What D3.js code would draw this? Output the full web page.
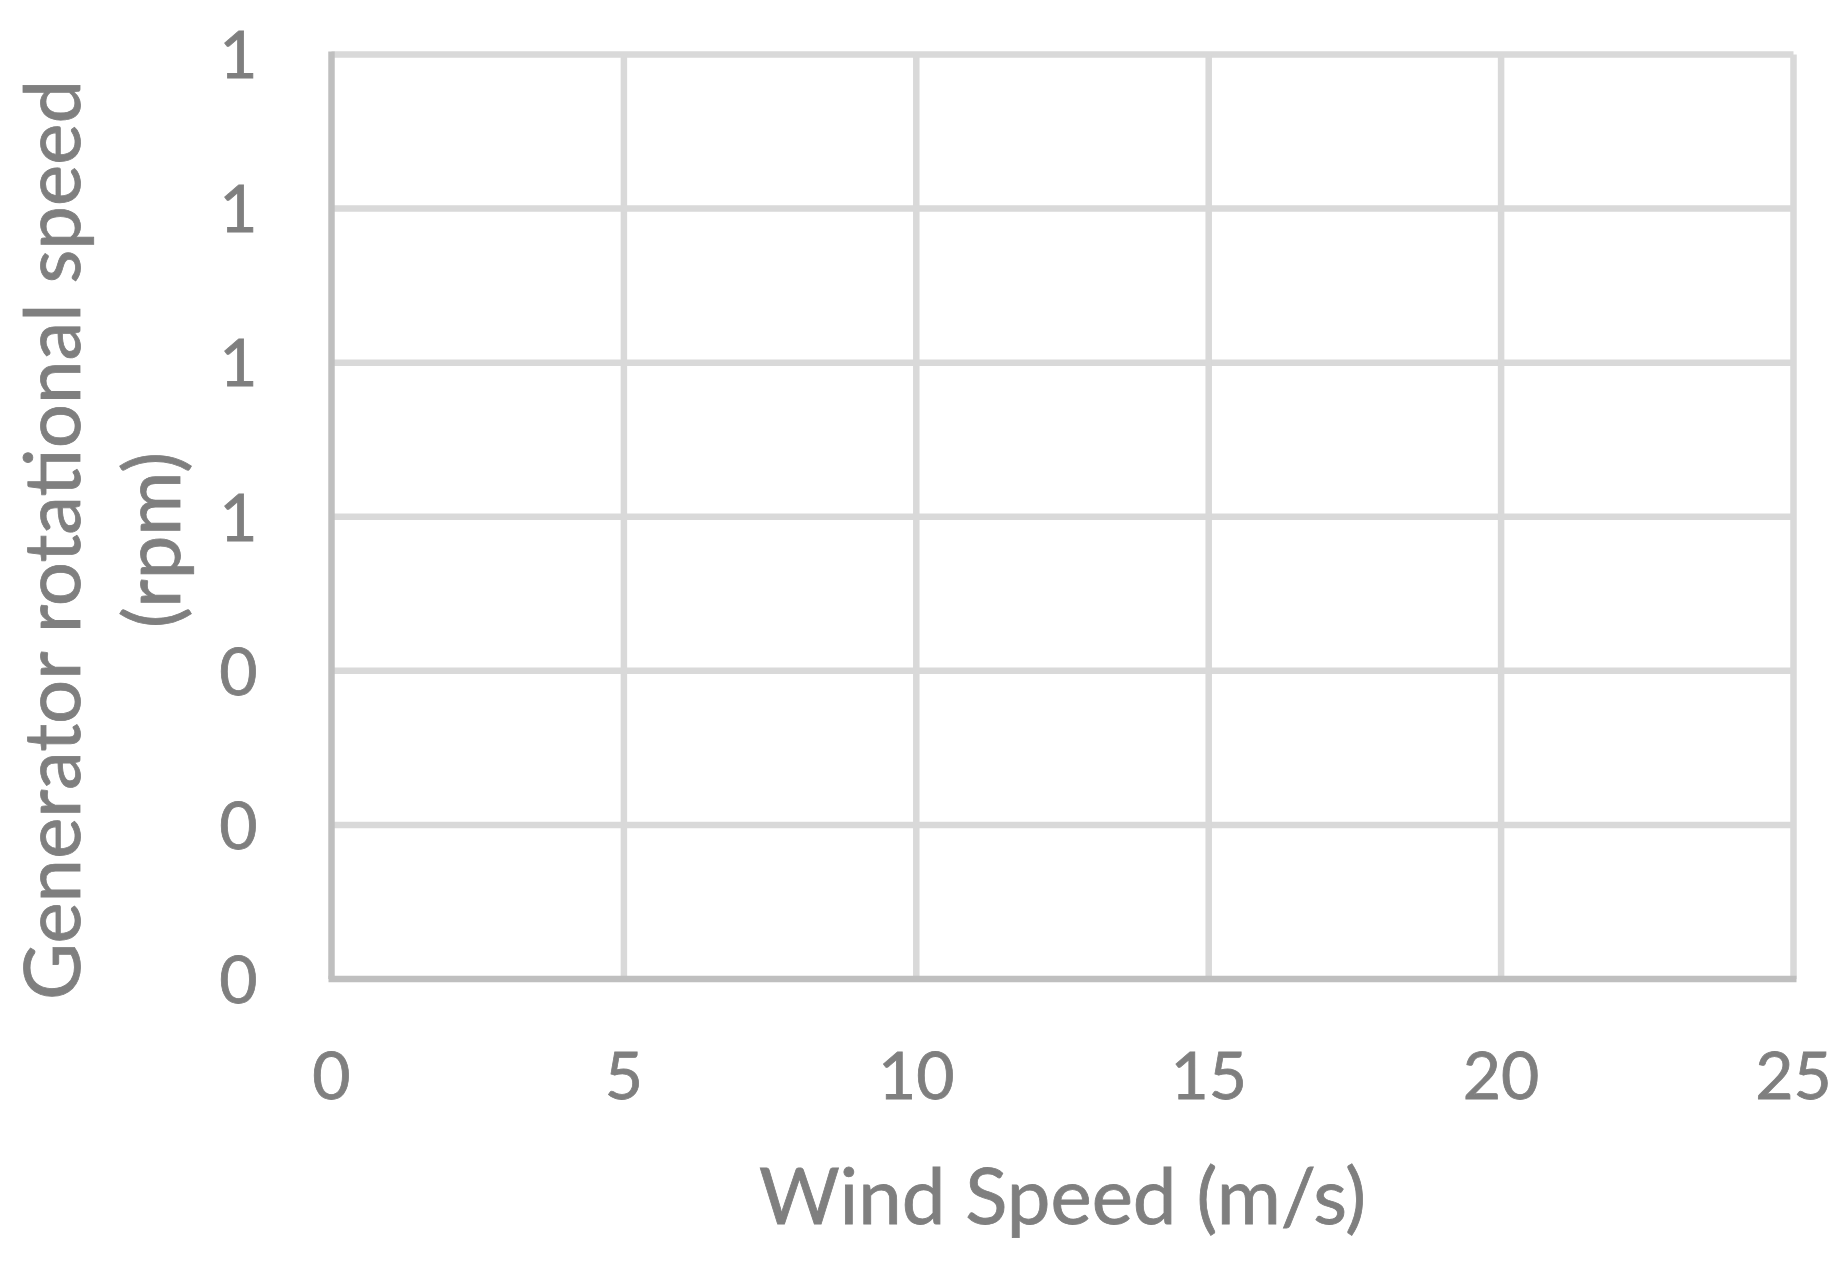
<!DOCTYPE html>
<html>
<head>
<meta charset="utf-8">
<script src="https://cdn.jsdelivr.net/npm/d3@7"></script>
<style>
  body { margin: 0; background: #fff; }
  text { font-family: Lato, "Open Sans", sans-serif; fill: #7f7f7f; }
</style>
</head>
<body>
<div id="chart"></div>
<script>
// Axis setup (the chart has no plotted series, only the empty grid)
const xTicks = [0, 5, 10, 15, 20, 25];
const yTicks = [0, 0.2, 0.4, 0.6, 0.8, 1.0, 1.2];
const xDomain = [0, 25];
const yDomain = [0, 1.2];
const xTitle = "Wind Speed (m/s)";
const yTitleLines = ["Generator rotational speed", "(rpm)"];

const W = 1845, H = 1261;
const margin = { top: 54.5, right: 51.5, bottom: 282, left: 331.5 },
    width = W - margin.left - margin.right,
    height = H - margin.top - margin.bottom;

const svg = d3.select("#chart")
    .append("svg")
    .attr("width", W)
    .attr("height", H);

const g = svg.append("g")
    .attr("transform", `translate(${margin.left},${margin.top})`);

const x = d3.scaleLinear().domain(xDomain).range([0, width]);
const y = d3.scaleLinear().domain(yDomain).range([height, 0]);

// horizontal gridlines
g.append("g")
    .selectAll("line")
    .data(yTicks.filter(d => d > 0))
    .join("line")
    .attr("x1", 0).attr("x2", width)
    .attr("y1", d => y(d)).attr("y2", d => y(d))
    .attr("stroke", "#d9d9d9")
    .attr("stroke-width", 6.5);

// vertical gridlines
g.append("g")
    .selectAll("line")
    .data(xTicks.filter(d => d > 0))
    .join("line")
    .attr("x1", d => x(d)).attr("x2", d => x(d))
    .attr("y1", 0).attr("y2", height)
    .attr("stroke", "#d9d9d9")
    .attr("stroke-width", 6.5);

// axis lines
g.append("line")
    .attr("x1", x(0)).attr("x2", x(0))
    .attr("y1", -3).attr("y2", height)
    .attr("stroke", "#bfbfbf")
    .attr("stroke-width", 6.5);
g.append("line")
    .attr("x1", x(0) - 3).attr("x2", width + 3)
    .attr("y1", y(0)).attr("y2", y(0))
    .attr("stroke", "#bfbfbf")
    .attr("stroke-width", 6.5);

// y tick labels
const fmt = d3.format(".0f");
g.append("g")
    .selectAll("text")
    .data(yTicks)
    .join("text")
    .attr("x", -74)
    .attr("y", d => y(d))
    .attr("dy", "0.36em")
    .attr("text-anchor", "end")
    .style("font-size", "66px")
    .style("stroke", "#7f7f7f")
    .style("stroke-width", 0.8)
    .text(d => fmt(d));

// x tick labels
g.append("g")
    .selectAll("text")
    .data(xTicks)
    .join("text")
    .attr("x", d => x(d))
    .attr("y", height + 96)
    .attr("dy", "0.36em")
    .attr("text-anchor", "middle")
    .style("font-size", "66px")
    .style("stroke", "#7f7f7f")
    .style("stroke-width", 0.8)
    .text(d => d);

// x axis title
svg.append("text")
    .attr("x", margin.left + width / 2)
    .attr("y", 1224)
    .attr("text-anchor", "middle")
    .style("font-size", "78px")
    .style("stroke", "#7f7f7f")
    .style("stroke-width", 0.8)
    .text(xTitle);

// y axis title, two lines
const yTitle = svg.append("text")
    .attr("transform", "translate(0,540) rotate(-90)")
    .attr("text-anchor", "middle")
    .style("font-size", "78px")
    .style("stroke", "#7f7f7f")
    .style("stroke-width", 0.8);
yTitleLines.forEach((t, i) => {
    yTitle.append("tspan")
        .attr("x", 0)
        .attr("y", i === 0 ? 80 : 180)
        .text(t);
});
</script>
</body>
</html>
